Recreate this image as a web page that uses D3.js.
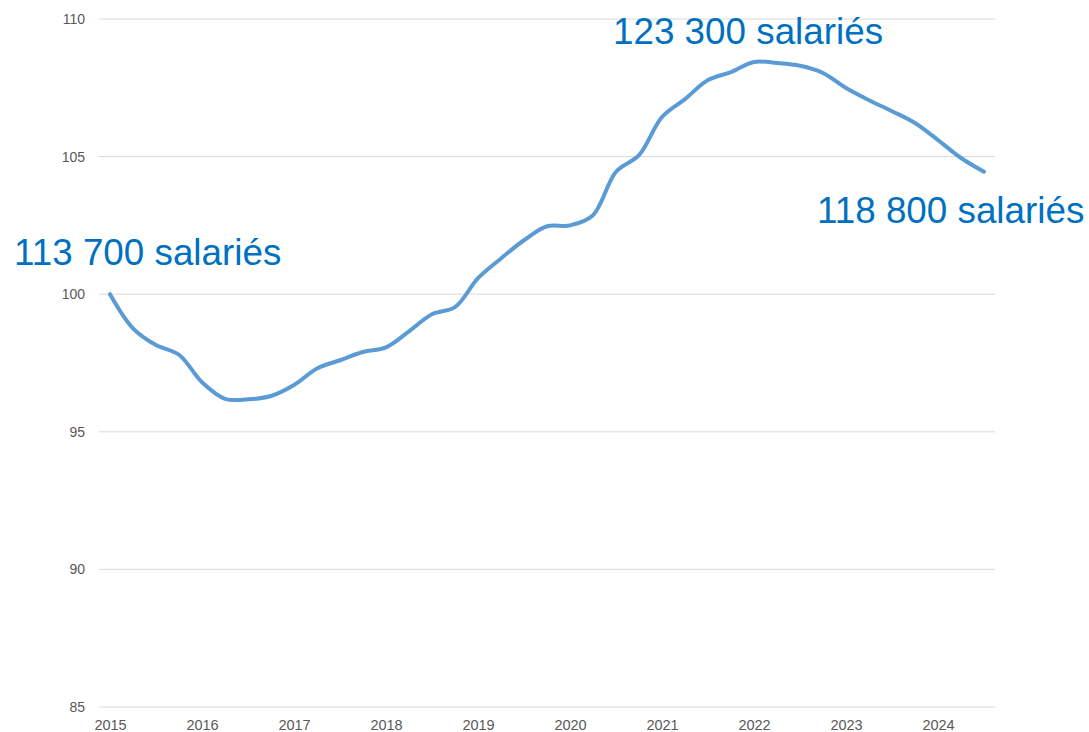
<!DOCTYPE html>
<html>
<head>
<meta charset="utf-8">
<script src="https://cdn.jsdelivr.net/npm/d3@7"></script>
<style>
  body { margin: 0; background: #fff; }
  text { font-family: "Liberation Sans", Arial, sans-serif; }
</style>
</head>
<body>
<svg id="canvas" width="1089" height="732"></svg>
<script>
/********** Data *********/
// index base 100 = 1st quarter 2015, one value per quarter up to Q3 2024
var values = [
    100, 98.76, 98.15, 97.8,
    96.8, 96.2, 96.18, 96.3,
    96.7, 97.3, 97.6, 97.9,
    98.07, 98.65, 99.27, 99.53,
    100.58, 101.3, 101.96, 102.47,
    102.5, 102.87, 104.45, 105.05,
    106.44, 107.09, 107.78, 108.07,
    108.44, 108.4, 108.3, 108.04,
    107.49, 107.05, 106.65, 106.22,
    105.6, 104.95, 104.45
];
var years = [2015, 2016, 2017, 2018, 2019, 2020, 2021, 2022, 2023, 2024];
var y_ticks = [85, 90, 95, 100, 105, 110];

// labels: text, quarter index, value
var labels = [
    {"text": "113 700 salariés", "at": 0,  "v": 100},
    {"text": "123 300 salariés", "at": 28, "v": 108.44},
    {"text": "118 800 salariés", "at": 38, "v": 104.45}
];

/********** Initialisation *********/
var svg = d3.select("#canvas");

var x = d3.scaleLinear()
    .domain([2015, 2024.5])
    .range([110, 984]);

var y = d3.scaleLinear()
    .domain([85, 110])
    .range([707, 19]);

function quarterYear(i) { return 2015 + i * 0.25; }

/********** Grid *********/
svg.append("g")
    .attr("class", "grid")
    .selectAll("line")
    .data(y_ticks)
    .enter()
    .append("line")
    .attr("x1", 99)
    .attr("x2", 995)
    .attr("y1", function(d) { return y(d); })
    .attr("y2", function(d) { return y(d); })
    .attr("stroke", "#d9d9d9")
    .attr("stroke-width", 1);

/********** Axes *********/
var yAxis = d3.axisLeft(y)
    .tickValues(y_ticks)
    .tickSize(0)
    .tickPadding(0);

svg.append("g")
    .attr("transform", "translate(85,0)")
    .call(yAxis)
    .call(function(g) { g.select(".domain").remove(); })
    .selectAll("text")
    .attr("font-size", 14)
    .attr("fill", "#595959")
    .style("font-family", "'Liberation Sans', Arial, sans-serif");

var xAxis = d3.axisBottom(x)
    .tickValues(years)
    .tickFormat(d3.format("d"))
    .tickSize(0)
    .tickPadding(0);

svg.append("g")
    .attr("transform", "translate(0,720)")
    .call(xAxis)
    .call(function(g) { g.select(".domain").remove(); })
    .selectAll("text")
    .attr("font-size", 14.5)
    .attr("fill", "#595959")
    .style("font-family", "'Liberation Sans', Arial, sans-serif");

/********** Line *********/
var line = d3.line()
    .x(function(d, i) { return x(quarterYear(i)); })
    .y(function(d) { return y(d); })
    .curve(d3.curveCatmullRom.alpha(0.5));

svg.append("path")
    .datum(values)
    .attr("d", line)
    .attr("fill", "none")
    .attr("stroke", "#5b9bd5")
    .attr("stroke-width", 4)
    .attr("stroke-linecap", "round")
    .attr("stroke-linejoin", "round");

/********** Labels *********/
var offsets = [
    {"dx": -96, "dy": -29},
    {"dx": -141, "dy": -18},
    {"dx": -167, "dy": 51}
];

svg.append("g")
    .selectAll("text")
    .data(labels)
    .enter()
    .append("text")
    .attr("x", function(d, i) { return x(quarterYear(d.at)) + offsets[i].dx; })
    .attr("y", function(d, i) { return y(d.v) + offsets[i].dy; })
    .attr("font-size", 36.8)
    .attr("fill", "#0070c0")
    .text(function(d) { return d.text; });
</script>
</body>
</html>
